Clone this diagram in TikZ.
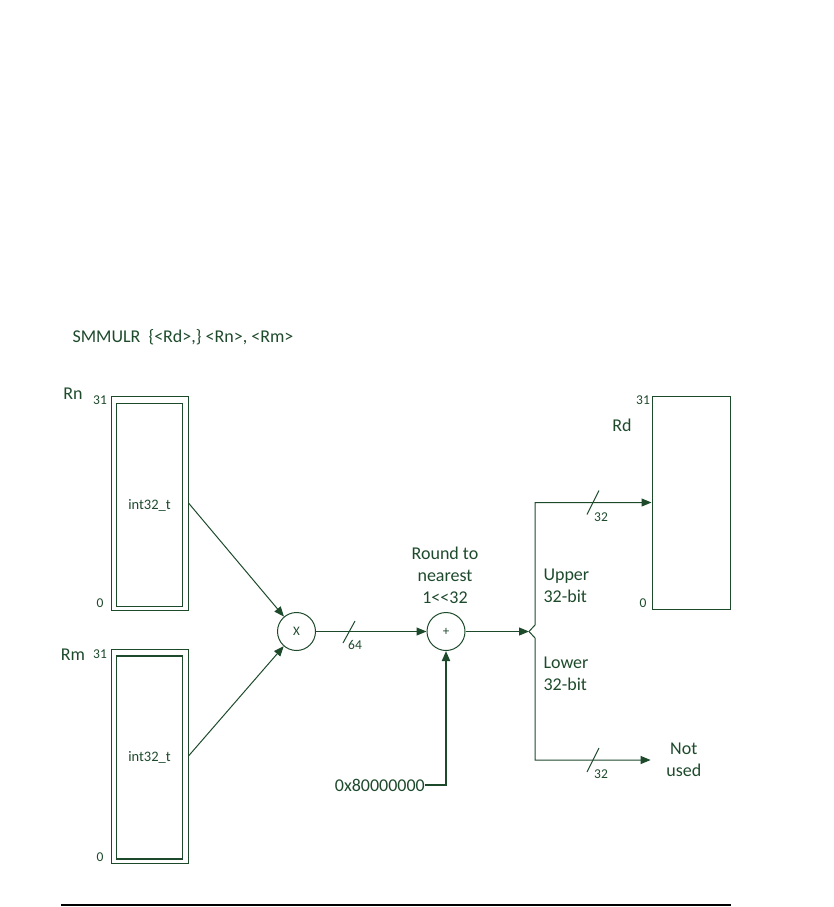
\documentclass[tikz,border=0pt]{standalone}
\usepackage{fontspec}
\setmainfont{Carlito}
\usetikzlibrary{arrows.meta,calc}
\definecolor{dg}{RGB}{30,74,44}
\begin{document}
\begin{tikzpicture}[x=1pt,y=-1pt,
  every node/.style={text=dg},
  big/.style={font=\fontsize{18}{22}\selectfont},
  small/.style={font=\fontsize{13.5}{15}\selectfont},
  mid/.style={font=\fontsize{14.5}{16}\selectfont},
  regbox/.style={draw=dg,line width=1pt,minimum width=77pt,minimum height=214pt,inner sep=0pt},
  innerbox/.style={draw=dg,line width=1.4pt,minimum width=66pt,minimum height=203pt,inner sep=0pt},
  op/.style={draw=dg,line width=1pt,circle,minimum size=38pt,inner sep=0pt,font=\fontsize{13}{14}\selectfont},
  wire/.style={draw=dg,line width=1pt},
  arr/.style={wire,-{Triangle[length=10pt,width=8pt]}},
]
\useasboundingbox (0,0) rectangle (834,907);

\node[big,anchor=west] (title) at (69,337) {SMMULR\ \ \{<Rd>,\} <Rn>, <Rm>};

% Rn register
\node[big] (rnlab) at (73,394) {Rn};
\node[regbox] (rnO) at (149.5,503) {};
\node[innerbox,mid] (rnI) at (149.5,505) {int32\_t};
\node[small] (rn31) at (100,400) {31};
\node[small] (rn0) at (100,603) {0};

% Rm register
\node[big] (rmlab) at (73,655) {Rm};
\node[regbox] (rmO) at (149.5,756) {};
\node[innerbox,mid] (rmI) at (149.5,757.5) {int32\_t};
\node[small] (rm31) at (100,654) {31};
\node[small] (rm0) at (100,857) {0};

% operators
\node[op] (mul) at (296.5,631.5) {X};
\node[op] (add) at (446,631.5) {+};

\draw[arr] (rnO.east) -- (mul);
\draw[arr] (rmO.east) -- (mul);
\draw[arr] (mul) -- (add);
\coordinate (s64) at (349,632);
\draw[wire] ($(s64)+(-6,11)$) -- ($(s64)+(6,-11)$);
\node[small] (l64) at (355,645) {64};

\node[big,align=center] (round) at (445,575) {Round to\\nearest\\1<{}<32};

% constant
\node[big,anchor=east,inner sep=0pt] (hex) at (425,785) {0x80000000};
\draw[arr,line width=1.8pt] (hex.east) -| (add.south);

% split
\coordinate (split) at (529,631.5);
\coordinate (up) at (535,625);
\coordinate (dn) at (535,638);
\draw[arr] (add) -- (split);

% Rd register
\node[draw=dg,line width=1pt,minimum width=78pt,minimum height=213pt,inner sep=0pt] (rd) at (691,502.5) {};
\node[small] (rd31) at (643,400) {31};
\node[small] (rd0) at (643,603) {0};
\node[big] (rdlab) at (622,425) {Rd};

\draw[arr] (split) -- (up) |- (rd.west);
\coordinate (s32a) at (593,502.5);
\draw[wire] ($(s32a)+(-6,12)$) -- ($(s32a)+(6,-12)$);
\node[small] (l32a) at (601,517) {32};

\node[big,anchor=east,inner sep=0pt] (nu) at (702,760) {\parbox{36pt}{\centering Not\\used}};
\draw[arr,shorten >=15pt] (split) -- (dn) |- (nu.west);
\coordinate (s32b) at (593,760);
\draw[wire] ($(s32b)+(-6,12)$) -- ($(s32b)+(6,-12)$);
\node[small] (l32b) at (601,774) {32};

\node[big,anchor=west,align=left] (upper) at (540,586) {Upper\\32-bit};
\node[big,anchor=west,align=left] (lower) at (540,674) {Lower\\32-bit};

% bottom rule
\coordinate (bl) at (61,905);
\coordinate (br) at (731,905);
\draw[line width=1.6pt,black] (bl) -- (br);
\end{tikzpicture}
\end{document}
